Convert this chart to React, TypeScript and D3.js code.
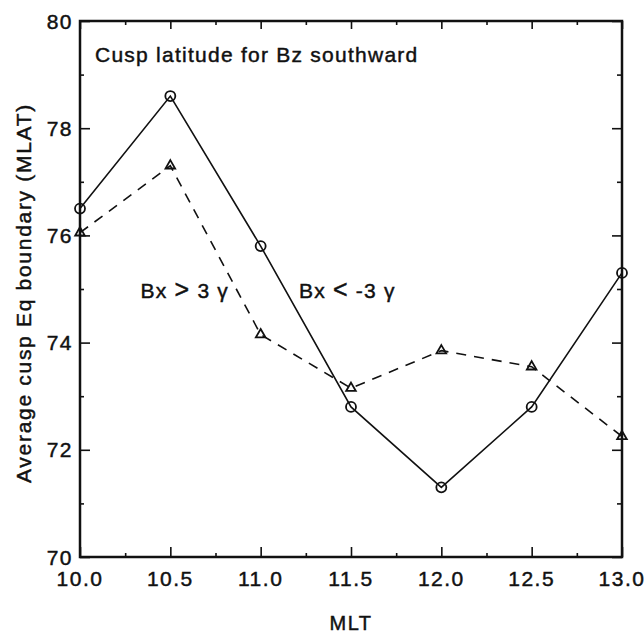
import * as d3 from "d3";
import { useEffect, useRef } from "react";

// MLT hours on the x axis
const mlt = [10.0, 10.5, 11.0, 11.5, 12.0, 12.5, 13.0];
// circles, solid line (Bx < -3 gamma)
const bxNegative = [76.5, 78.6, 75.8, 72.8, 71.3, 72.8, 75.3];
// triangles, dashed line (Bx > 3 gamma)
const bxPositive = [76.05, 77.3, 74.15, 73.15, 73.85, 73.55, 72.25];

const xMajor = [10.0, 10.5, 11.0, 11.5, 12.0, 12.5, 13.0];
const xMinor = [10.25, 10.75, 11.25, 11.75, 12.25, 12.75];
const yMajor = [70, 72, 74, 76, 78, 80];
const yMinor = [71, 73, 75, 77, 79];

const font = "'Liberation Sans', Arial, Helvetica, sans-serif";

const App = () => {
  const ref = useRef<SVGSVGElement | null>(null);

  useEffect(() => {
    const svg = d3.select(ref.current);
    svg.selectAll("*").remove();

    const width = 644,
      height = 633;
    const left = 80,
      right = 622,
      top = 21,
      bottom = 557;

    const x = d3.scaleLinear().domain([10, 13]).range([left, right]);
    const y = d3.scaleLinear().domain([70, 80]).range([bottom, top]);

    svg.attr("width", width).attr("height", height);
    svg.append("rect").attr("width", width).attr("height", height).attr("fill", "#fff");

    const g = svg.append("g");

    // text helper, slight stroke to match the heavier print of the scan
    const label = (sel: d3.Selection<SVGTextElement, any, any, any>, size = 21, spacing = 1.5) =>
      sel
        .attr("font-family", font)
        .attr("font-size", size)
        .attr("letter-spacing", spacing)
        .attr("fill", "#111")
        .attr("stroke", "#111")
        .attr("stroke-width", 0.45);

    // ticks pointing inward on all four sides
    const tickGroup = (axis: d3.Axis<d3.NumberValue>, tx: number, ty: number) => {
      const a = g.append("g").attr("transform", `translate(${tx},${ty})`).call(axis);
      a.select(".domain").remove();
      a.selectAll("line").attr("stroke", "#111").attr("stroke-width", 1.6);
      a.selectAll("text").remove();
    };
    tickGroup(d3.axisBottom(x).tickValues(xMajor).tickSize(-10).tickSizeOuter(0), 0, bottom);
    tickGroup(d3.axisBottom(x).tickValues(xMinor).tickSize(-4).tickSizeOuter(0), 0, bottom);
    tickGroup(d3.axisTop(x).tickValues(xMajor).tickSize(-8).tickSizeOuter(0), 0, top);
    tickGroup(d3.axisTop(x).tickValues(xMinor).tickSize(-4).tickSizeOuter(0), 0, top);
    tickGroup(d3.axisLeft(y).tickValues(yMajor).tickSize(-10).tickSizeOuter(0), left, 0);
    tickGroup(d3.axisLeft(y).tickValues(yMinor).tickSize(-4).tickSizeOuter(0), left, 0);
    tickGroup(d3.axisRight(y).tickValues(yMajor).tickSize(-10).tickSizeOuter(0), right, 0);
    tickGroup(d3.axisRight(y).tickValues(yMinor).tickSize(-5).tickSizeOuter(0), right, 0);

    // frame
    g.append("rect")
      .attr("x", left)
      .attr("y", top)
      .attr("width", right - left)
      .attr("height", bottom - top)
      .attr("fill", "none")
      .attr("stroke", "#111")
      .attr("stroke-width", 2.5);

    // tick labels
    g.selectAll(".xl")
      .data(xMajor)
      .enter()
      .append("text")
      .attr("x", (d) => x(d))
      .attr("y", 586)
      .attr("text-anchor", "middle")
      .call(label)
      .text((d) => d.toFixed(1));

    g.selectAll(".yl")
      .data(yMajor)
      .enter()
      .append("text")
      .attr("x", 73)
      .attr("y", (d) => y(d) + 7.5)
      .attr("text-anchor", "end")
      .call(label)
      .text((d) => d);

    // axis titles
    g.append("text")
      .attr("x", (left + right) / 2)
      .attr("y", 630)
      .attr("text-anchor", "middle")
      .call(label, 20)
      .text("MLT");

    g.append("text")
      .attr("transform", `translate(31,${(top + bottom) / 2 + 4}) rotate(-90)`)
      .attr("text-anchor", "middle")
      .call(label, 21, 1.7)
      .text("Average cusp Eq boundary (MLAT)");

    g.append("text")
      .attr("x", 95)
      .attr("y", 62)
      .call(label, 21, 1.25)
      .text("Cusp latitude for Bz southward");

    // series annotations
    const ann1 = g.append("text").attr("x", 229).attr("y", 298).attr("text-anchor", "end").call(label, 21, 1.2);
    ann1.append("tspan").text("Bx ");
    ann1.append("tspan").attr("font-size", 25).text(">");
    ann1.append("tspan").text(" 3 \u03b3");

    const ann2 = g.append("text").attr("x", 299).attr("y", 298).call(label, 21, 1.2);
    ann2.append("tspan").text("Bx ");
    ann2.append("tspan").attr("font-size", 25).text("<");
    ann2.append("tspan").text(" -3 \u03b3");

    // series
    const line = d3
      .line<number>()
      .x((d, i) => x(mlt[i]))
      .y((d) => y(d));

    g.append("path")
      .datum(bxPositive)
      .attr("d", line)
      .attr("fill", "none")
      .attr("stroke", "#111")
      .attr("stroke-width", 1.6)
      .attr("stroke-dasharray", "10,8");

    g.append("path")
      .datum(bxNegative)
      .attr("d", line)
      .attr("fill", "none")
      .attr("stroke", "#111")
      .attr("stroke-width", 1.6);

    g.selectAll(".circ")
      .data(bxNegative)
      .enter()
      .append("circle")
      .attr("cx", (d, i) => x(mlt[i]))
      .attr("cy", (d) => y(d))
      .attr("r", 5)
      .attr("fill", "none")
      .attr("stroke", "#111")
      .attr("stroke-width", 1.8);

    const tri = d3.symbol(d3.symbolTriangle, 40);
    g.selectAll(".tri")
      .data(bxPositive)
      .enter()
      .append("path")
      .attr("d", tri)
      .attr("transform", (d, i) => `translate(${x(mlt[i])},${y(d)})`)
      .attr("fill", "none")
      .attr("stroke", "#111")
      .attr("stroke-width", 1.8);
  }, []);

  return <svg ref={ref} style={{ position: "absolute", left: 0, top: 0 }}></svg>;
};

export default App;
